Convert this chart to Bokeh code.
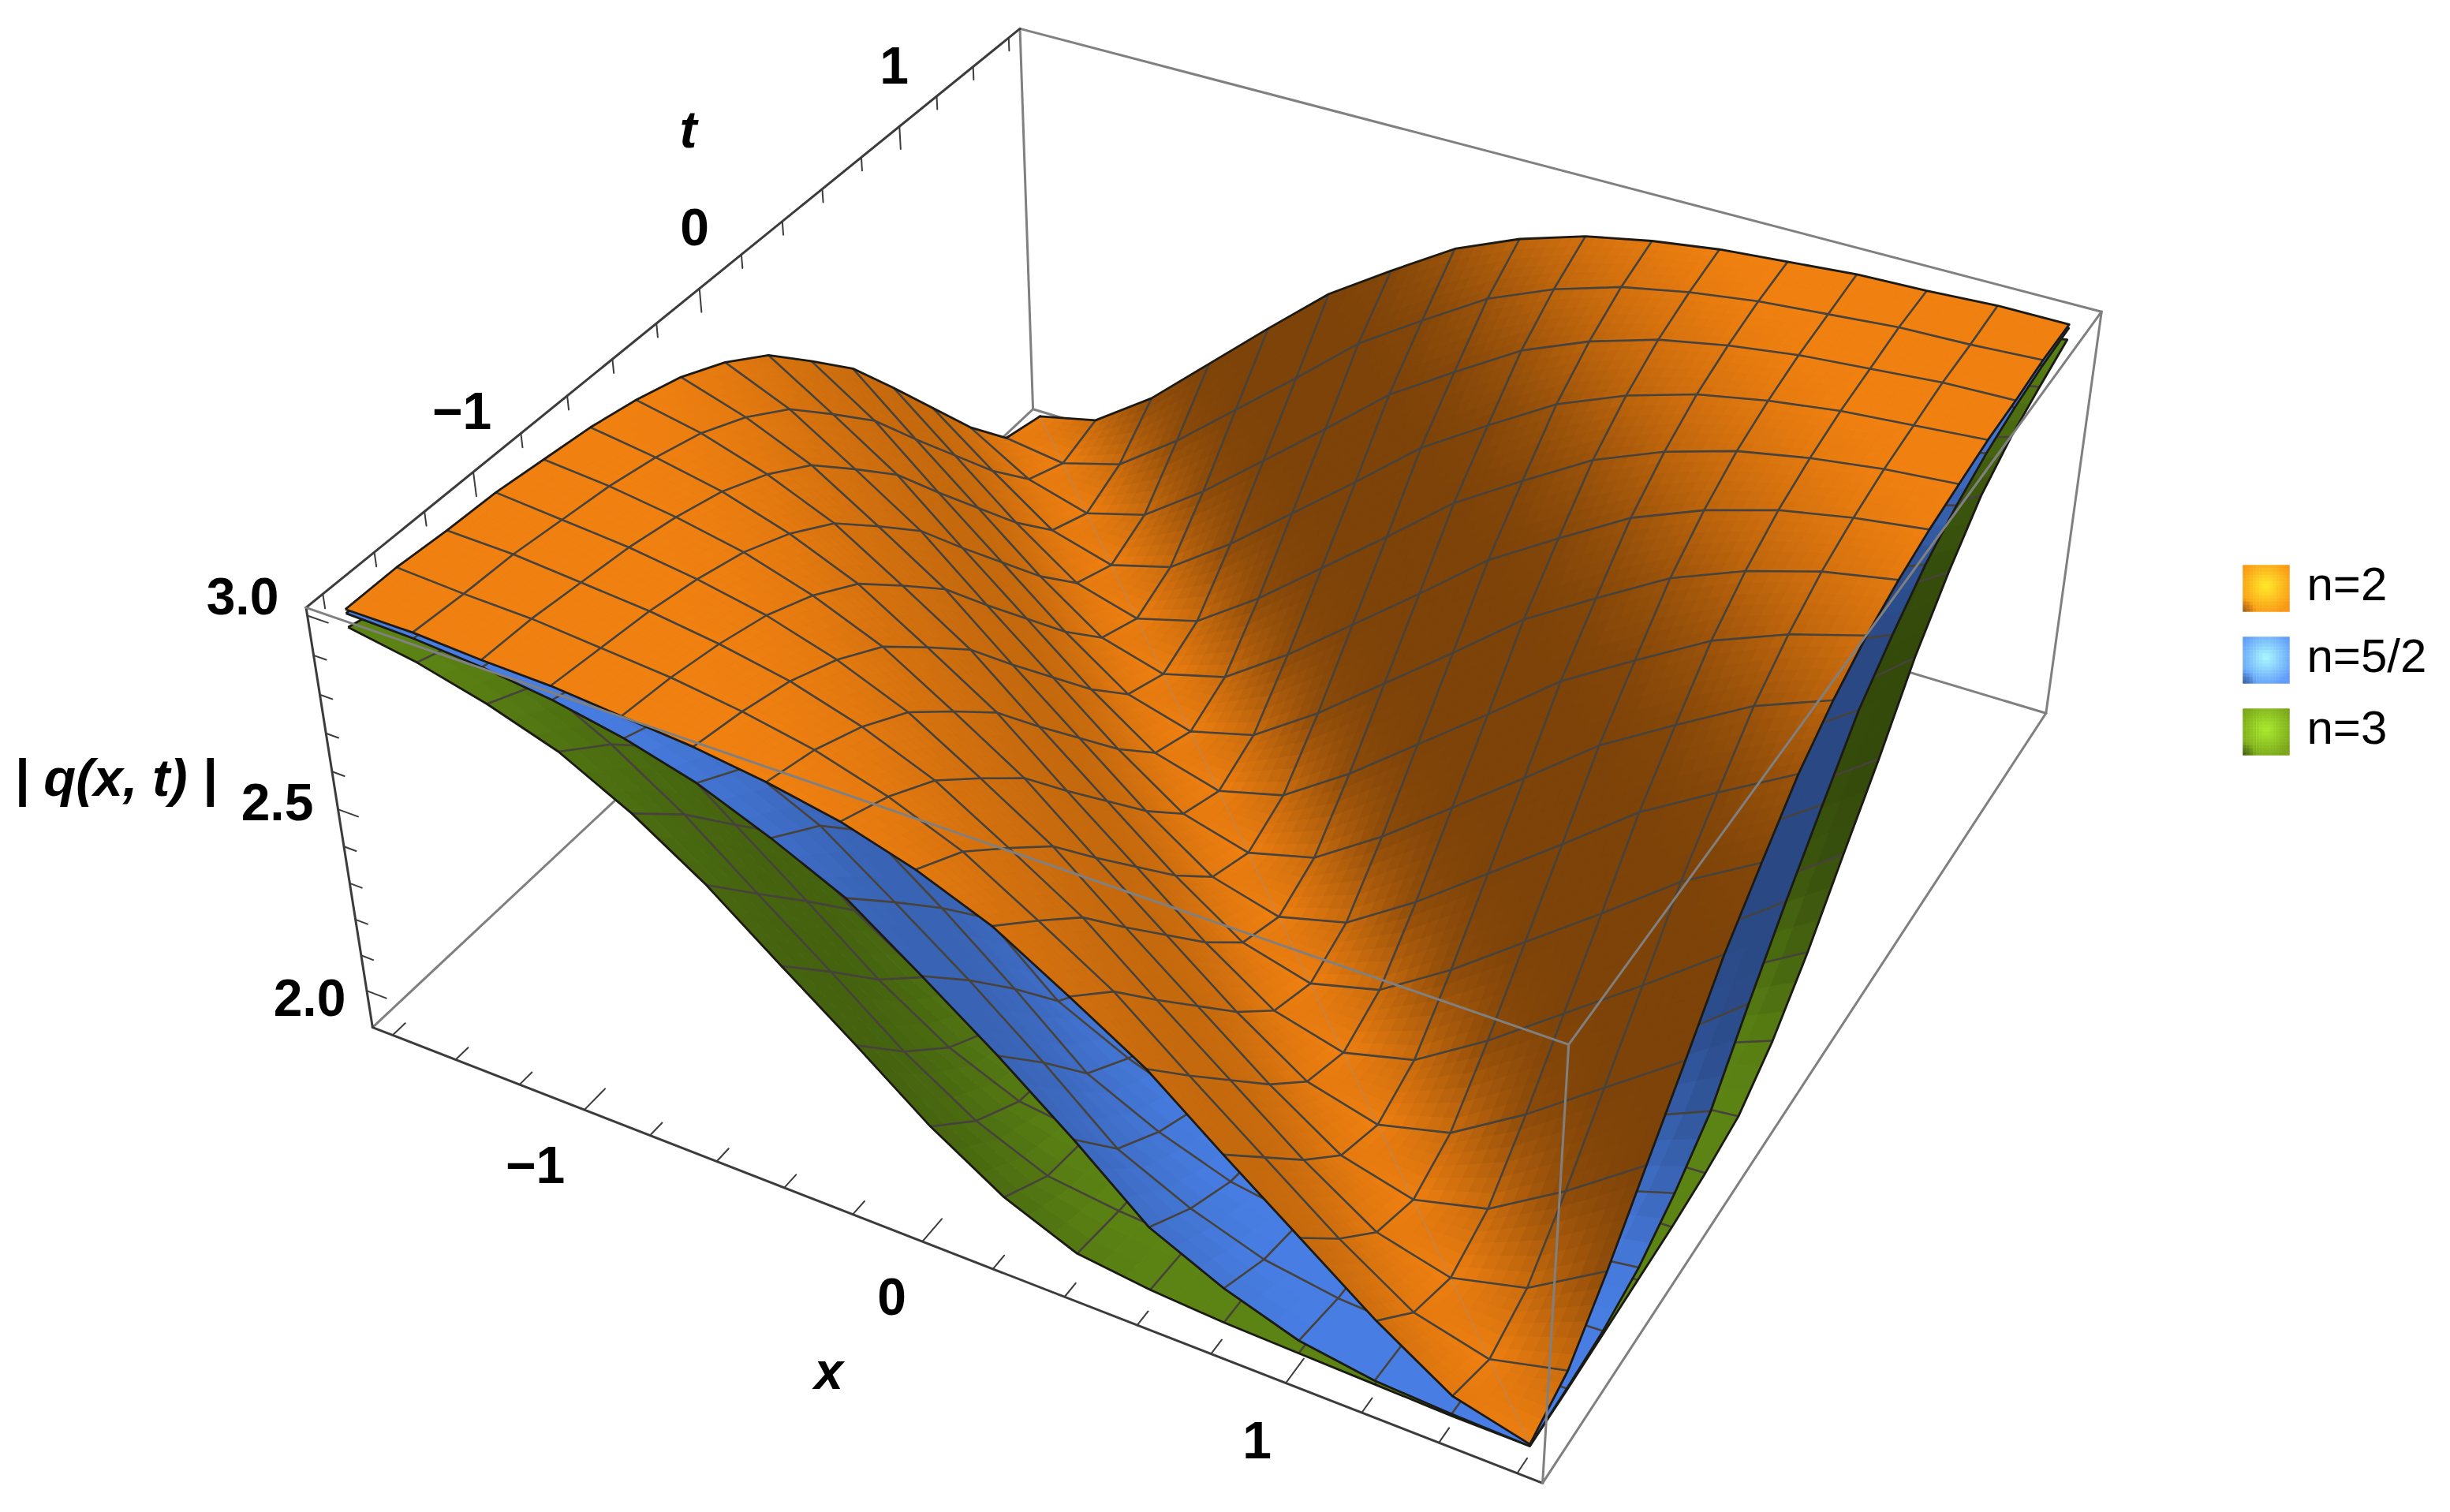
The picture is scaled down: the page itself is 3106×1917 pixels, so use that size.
import numpy as np
from bokeh.plotting import figure
from bokeh.embed import file_html
from bokeh.resources import INLINE
from bokeh.core.properties import value

# ---------- data ----------
x_nodes = [-1.6,-1.4,-1.2,-1.0,-0.8,-0.6,-0.4,-0.2,0.0,0.2,0.4,0.6,0.8,1.0,1.2,1.4,1.6]
t_nodes = [-1.6,-1.4,-1.2,-1.0,-0.8,-0.6,-0.4,-0.2,0.0,0.2,0.4,0.6,0.8,1.0,1.2,1.4,1.6]

z_n2 = [
[3.00,3.00,2.99,2.985,2.97,2.955,2.93,2.895,2.84,2.765,2.655,2.54,2.39,2.235,2.08,1.95,1.92],
[3.00,2.99,2.985,2.97,2.955,2.93,2.895,2.84,2.765,2.655,2.54,2.39,2.245,2.10,1.975,1.925,1.96],
[2.99,2.985,2.97,2.955,2.93,2.895,2.84,2.765,2.655,2.54,2.39,2.245,2.10,1.975,1.925,1.975,2.08],
[2.985,2.97,2.955,2.93,2.895,2.84,2.765,2.655,2.54,2.39,2.245,2.10,1.975,1.925,1.975,2.10,2.235],
[2.97,2.955,2.93,2.895,2.84,2.765,2.655,2.54,2.39,2.245,2.10,1.975,1.925,1.975,2.10,2.245,2.39],
[2.955,2.93,2.895,2.84,2.765,2.655,2.54,2.39,2.245,2.10,1.975,1.925,1.975,2.10,2.245,2.39,2.54],
[2.93,2.895,2.84,2.765,2.655,2.54,2.39,2.245,2.10,1.975,1.925,1.975,2.10,2.245,2.39,2.54,2.655],
[2.895,2.84,2.765,2.655,2.54,2.39,2.245,2.10,1.975,1.925,1.975,2.10,2.245,2.39,2.54,2.655,2.765],
[2.84,2.765,2.655,2.54,2.39,2.245,2.10,1.975,1.925,1.975,2.10,2.245,2.39,2.54,2.655,2.765,2.84],
[2.765,2.655,2.54,2.39,2.245,2.10,1.975,1.925,1.975,2.10,2.245,2.39,2.54,2.655,2.765,2.84,2.895],
[2.655,2.54,2.39,2.245,2.10,1.975,1.925,1.975,2.10,2.245,2.39,2.54,2.655,2.765,2.84,2.895,2.93],
[2.54,2.39,2.245,2.10,1.975,1.925,1.975,2.10,2.245,2.39,2.54,2.655,2.765,2.84,2.895,2.93,2.955],
[2.39,2.245,2.10,1.975,1.925,1.975,2.10,2.245,2.39,2.54,2.655,2.765,2.84,2.895,2.93,2.955,2.97],
[2.245,2.10,1.975,1.925,1.975,2.10,2.245,2.39,2.54,2.655,2.765,2.84,2.895,2.93,2.955,2.97,2.985],
[2.10,1.975,1.925,1.975,2.10,2.245,2.39,2.54,2.655,2.765,2.84,2.895,2.93,2.955,2.97,2.985,2.99],
[1.975,1.925,1.975,2.10,2.245,2.39,2.54,2.655,2.765,2.84,2.895,2.93,2.955,2.97,2.985,2.99,3.00],
[1.925,1.975,2.10,2.245,2.39,2.54,2.655,2.765,2.84,2.895,2.93,2.955,2.97,2.985,2.99,3.00,3.00],
]

z_n52 = [
[2.99,2.985,2.972,2.95,2.915,2.865,2.79,2.703,2.57,2.432,2.282,2.12,2.03,1.965,1.935,1.925,1.92],
[2.985,2.972,2.95,2.915,2.865,2.79,2.703,2.57,2.432,2.282,2.12,2.03,1.965,1.935,1.925,1.92,1.925],
[2.972,2.95,2.915,2.865,2.79,2.703,2.57,2.432,2.282,2.12,2.03,1.965,1.935,1.925,1.92,1.925,1.935],
[2.95,2.915,2.865,2.79,2.703,2.57,2.432,2.282,2.12,2.03,1.965,1.935,1.925,1.92,1.925,1.935,1.965],
[2.915,2.865,2.79,2.703,2.57,2.432,2.282,2.12,2.03,1.965,1.935,1.925,1.92,1.925,1.935,1.965,2.03],
[2.865,2.79,2.703,2.57,2.432,2.282,2.12,2.03,1.965,1.935,1.925,1.92,1.925,1.935,1.965,2.03,2.12],
[2.79,2.703,2.57,2.432,2.282,2.12,2.03,1.965,1.935,1.925,1.92,1.925,1.935,1.965,2.03,2.12,2.282],
[2.703,2.57,2.432,2.282,2.12,2.03,1.965,1.935,1.925,1.92,1.925,1.935,1.965,2.03,2.12,2.282,2.432],
[2.57,2.432,2.282,2.12,2.03,1.965,1.935,1.925,1.92,1.925,1.935,1.965,2.03,2.12,2.282,2.432,2.57],
[2.432,2.282,2.12,2.03,1.965,1.935,1.925,1.92,1.925,1.935,1.965,2.03,2.12,2.282,2.432,2.57,2.703],
[2.282,2.12,2.03,1.965,1.935,1.925,1.92,1.925,1.935,1.965,2.03,2.12,2.282,2.432,2.57,2.703,2.79],
[2.12,2.03,1.965,1.935,1.925,1.92,1.925,1.935,1.965,2.03,2.12,2.282,2.432,2.57,2.703,2.79,2.865],
[2.03,1.965,1.935,1.925,1.92,1.925,1.935,1.965,2.03,2.12,2.282,2.432,2.57,2.703,2.79,2.865,2.915],
[1.965,1.935,1.925,1.92,1.925,1.935,1.965,2.03,2.12,2.282,2.432,2.57,2.703,2.79,2.865,2.915,2.95],
[1.935,1.925,1.92,1.925,1.935,1.965,2.03,2.12,2.282,2.432,2.57,2.703,2.79,2.865,2.915,2.95,2.972],
[1.925,1.92,1.925,1.935,1.965,2.03,2.12,2.282,2.432,2.57,2.703,2.79,2.865,2.915,2.95,2.972,2.985],
[1.92,1.925,1.935,1.965,2.03,2.12,2.282,2.432,2.57,2.703,2.79,2.865,2.915,2.95,2.972,2.985,2.99],
]

z_n3 = [
[2.955,2.925,2.88,2.82,2.725,2.605,2.46,2.318,2.17,2.05,1.97,1.947,1.935,1.93,1.925,1.92,1.92],
[2.925,2.88,2.82,2.725,2.605,2.46,2.318,2.17,2.05,1.97,1.947,1.935,1.93,1.925,1.92,1.92,1.92],
[2.88,2.82,2.725,2.605,2.46,2.318,2.17,2.05,1.97,1.947,1.935,1.93,1.925,1.92,1.92,1.92,1.925],
[2.82,2.725,2.605,2.46,2.318,2.17,2.05,1.97,1.947,1.935,1.93,1.925,1.92,1.92,1.92,1.925,1.93],
[2.725,2.605,2.46,2.318,2.17,2.05,1.97,1.947,1.935,1.93,1.925,1.92,1.92,1.92,1.925,1.93,1.935],
[2.605,2.46,2.318,2.17,2.05,1.97,1.947,1.935,1.93,1.925,1.92,1.92,1.92,1.925,1.93,1.935,1.947],
[2.46,2.318,2.17,2.05,1.97,1.947,1.935,1.93,1.925,1.92,1.92,1.92,1.925,1.93,1.935,1.947,1.97],
[2.318,2.17,2.05,1.97,1.947,1.935,1.93,1.925,1.92,1.92,1.92,1.925,1.93,1.935,1.947,1.97,2.05],
[2.17,2.05,1.97,1.947,1.935,1.93,1.925,1.92,1.92,1.92,1.925,1.93,1.935,1.947,1.97,2.05,2.17],
[2.05,1.97,1.947,1.935,1.93,1.925,1.92,1.92,1.92,1.925,1.93,1.935,1.947,1.97,2.05,2.17,2.318],
[1.97,1.947,1.935,1.93,1.925,1.92,1.92,1.92,1.925,1.93,1.935,1.947,1.97,2.05,2.17,2.318,2.46],
[1.947,1.935,1.93,1.925,1.92,1.92,1.92,1.925,1.93,1.935,1.947,1.97,2.05,2.17,2.318,2.46,2.62],
[1.935,1.93,1.925,1.92,1.92,1.92,1.925,1.93,1.935,1.947,1.97,2.05,2.17,2.318,2.46,2.62,2.74],
[1.93,1.925,1.92,1.92,1.92,1.925,1.93,1.935,1.947,1.97,2.05,2.17,2.318,2.46,2.62,2.74,2.84],
[1.925,1.92,1.92,1.92,1.925,1.93,1.935,1.947,1.97,2.05,2.17,2.318,2.46,2.62,2.74,2.84,2.895],
[1.92,1.92,1.92,1.925,1.93,1.935,1.947,1.97,2.05,2.17,2.318,2.46,2.62,2.74,2.84,2.895,2.93],
[1.92,1.92,1.925,1.93,1.935,1.947,1.97,2.05,2.17,2.318,2.46,2.62,2.74,2.84,2.895,2.93,2.96],
]

series_names = ["n=2", "n=5/2", "n=3"]
x_tick_labels = ["\u22121", "0", "1"]
t_tick_labels = ["\u22121", "0", "1"]
z_tick_labels = ["3.0", "2.5", "2.0"]
x_major = [-1.0, 0.0, 1.0]
x_minor = [-1.6,-1.4,-1.2,-0.8,-0.6,-0.4,-0.2,0.2,0.4,0.6,0.8,1.2,1.4,1.6]
z_major = [2.0, 2.5, 3.0]
z_minor = [2.1,2.2,2.3,2.4,2.6,2.7,2.8,2.9]

# ---------- style: brightness of the surfaces, by diagonal index ----------
shade_n2 = [1,1,1,1,1,1,1,.98,.95,.9,.87,.84,.82,.82,.86,.95,1,.84,.58,.52,.52,.52,.55,.65,.78,.88,.95,1,1,1,1,1,1]
shade_n52 = [1,1,1,1,.97,.93,.88,.82,.79,.79,.82,.88,.94,1,1,1,1,1,1,.95,.8,.66,.58,.58,.58,.58,.58,.66,.8,.9,1,1,1]
shade_n3 = [1,1,.95,.88,.82,.78,.76,.74,.76,.82,.92,1,1,1,1,1,1,1,1,1,1,1,1,.95,.72,.58,.56,.56,.58,.66,.8,.92,1]
base_n2 = (240,128,16)
base_n52 = (72,126,228)
base_n3 = (92,132,20)

# ---------- camera: calibrated on the corners of the box and on the axis ticks ----------
XMIN, XMAX, TMIN, TMAX, ZMIN, ZMAX = -1.664, 1.664, -1.664, 1.664, 1.895, 3.02
calib = [
    ((XMIN,TMIN,ZMAX),(386,767)), ((XMIN,TMIN,ZMIN),(470,1302)),
    ((XMAX,TMIN,ZMIN),(1955,1882)), ((XMAX,TMIN,ZMAX),(1987,1323)),
    ((XMIN,TMAX,ZMAX),(1292,35)), ((XMIN,TMAX,ZMIN),(1309,518)),
    ((XMAX,TMAX,ZMAX),(2663,394)), ((XMAX,TMAX,ZMIN),(2594,905)),
    ((XMIN,-1,ZMAX),(603,597)), ((XMIN,0,ZMAX),(886,365)), ((XMIN,1,ZMAX),(1140,161)),
    ((-1.6,TMIN,ZMIN),(498,1311)), ((0,TMIN,ZMIN),(1168,1576)), ((1,TMIN,ZMIN),(1628,1754)), ((1.6,TMIN,ZMIN),(1926,1863)),
    ((XMIN,TMIN,3.0),(388,776)), ((XMIN,TMIN,2.5),(431,1044)), ((XMIN,TMIN,2.0),(463,1245)),
]
A, b = [], []
for (X,T,Z),(u,v) in calib:
    A.append([X,T,Z,1,0,0,0,0,-u*X,-u*T,-u*Z]); b.append(u)
    A.append([0,0,0,0,X,T,Z,1,-v*X,-v*T,-v*Z]); b.append(v)
sol = np.linalg.lstsq(np.array(A,float), np.array(b,float), rcond=None)[0]
P = np.append(sol,1.0).reshape(3,4)

def proj(x,t,z):
    x,t,z = np.asarray(x,float),np.asarray(t,float),np.asarray(z,float)
    w = P[2,0]*x+P[2,1]*t+P[2,2]*z+P[2,3]
    return (P[0,0]*x+P[0,1]*t+P[0,2]*z+P[0,3])/w, (P[1,0]*x+P[1,1]*t+P[1,2]*z+P[1,3])/w, w

_,_,w_near = proj(XMAX,TMIN,ZMAX)
_,_,w_far = proj(XMIN,TMAX,ZMIN)
depth_sign = 1.0 if w_far>w_near else -1.0

p = figure(width=3090, height=1901, x_range=(0,3090), y_range=(1901,0), output_backend="svg",
           toolbar_location=None, min_border=0, outline_line_color=None, background_fill_color="white")
p.axis.visible = False
p.grid.visible = False

def seg(a,b):
    ax,ay,_ = proj(*a); bx,by,_ = proj(*b)
    return [float(ax),float(bx)],[float(ay),float(by)]

def lines(segs,color,width):
    xs=[];ys=[]
    for a,b in segs:
        u,v=seg(a,b); xs.append(u); ys.append(v)
    p.multi_line(xs,ys,line_color=color,line_width=width,line_cap="round")

GRAY="#808080"; DARK="#3c3c3c"
lines([((XMIN,TMIN,ZMIN),(XMIN,TMAX,ZMIN)),((XMIN,TMAX,ZMIN),(XMIN,TMAX,ZMAX)),
       ((XMIN,TMAX,ZMAX),(XMAX,TMAX,ZMAX)),((XMIN,TMAX,ZMIN),(XMAX,TMAX,ZMIN)),
       ((XMAX,TMAX,ZMIN),(XMAX,TMAX,ZMAX))],GRAY,3.0)
lines([((XMIN,TMIN,ZMAX),(XMIN,TMAX,ZMAX)),((XMIN,TMIN,ZMAX),(XMIN,TMIN,ZMIN)),
       ((XMIN,TMIN,ZMIN),(XMAX,TMIN,ZMIN))],DARK,3.0)
tk=[]
for v in x_major: tk.append(((v,TMIN,ZMIN),(v,TMIN+.09,ZMIN)))
for v in x_minor: tk.append(((v,TMIN,ZMIN),(v,TMIN+.053,ZMIN)))
for v in x_major: tk.append(((XMIN,v,ZMAX),(XMIN,v,ZMAX-.062)))
for v in x_minor: tk.append(((XMIN,v,ZMAX),(XMIN,v,ZMAX-.036)))
for v in z_major: tk.append(((XMIN,TMIN,v),(XMIN+.062,TMIN,v)))
for v in z_minor: tk.append(((XMIN,TMIN,v),(XMIN+.038,TMIN,v)))
lines(tk,DARK,2.0)

def surface(z, shade, base, sub, fold=False):
    z=np.array(z,float); n=len(x_nodes)
    X,T=np.meshgrid(x_nodes,t_nodes,indexing="ij")
    S=np.array([[shade[i+j] for j in range(n)] for i in range(n)],float)
    cells=[]
    for i in range(n-1):
        for j in range(n-1):
            _,_,wc=proj(X[i:i+2,j:j+2].mean(),T[i:i+2,j:j+2].mean(),z[i:i+2,j:j+2].mean())
            cells.append((depth_sign*float(wc),i,j))
    cells.sort(reverse=True)
    px=[];py=[];col=[]
    g=np.linspace(0,1,sub+1)
    for _,i,j in cells:
        def bl(F,a,c):
            return F[i,j]*(1-a)*(1-c)+F[i+1,j]*a*(1-c)+F[i,j+1]*(1-a)*c+F[i+1,j+1]*a*c
        for a0,a1 in zip(g[:-1],g[1:]):
            for c0,c1 in zip(g[:-1],g[1:]):
                q=[(a0,c0),(a1,c0),(a1,c1),(a0,c1)]
                qx=[bl(X,a,c) for a,c in q]; qt=[bl(T,a,c) for a,c in q]; qz=[bl(z,a,c) for a,c in q]
                u,v,_=proj(qx,qt,qz)
                px.append(u.tolist()); py.append(v.tolist())
                br=bl(S,(a0+a1)/2,(c0+c1)/2)
                col.append("#%02x%02x%02x"%tuple(int(round(min(255,b_*br))) for b_ in base))
    p.patches(px,py,fill_color=col,line_color=col,line_width=1.0)
    if fold:
        idx=list(range(n))
        u,v,_=proj([X[i,n-1-i] for i in idx],[T[i,n-1-i] for i in idx],[z[i,n-1-i] for i in idx])
        p.line(u.tolist(),v.tolist(),line_color="#a09088",line_width=1.6,line_alpha=.45)
    mx=[];my=[]
    for i in range(1,n-1):
        u,v,_=proj(X[i,:],T[i,:],z[i,:]); mx.append(u.tolist()); my.append(v.tolist())
        u,v,_=proj(X[:,i],T[:,i],z[:,i]); mx.append(u.tolist()); my.append(v.tolist())
    p.multi_line(mx,my,line_color="#47423b",line_width=2.6,line_join="round")
    ex=np.concatenate([X[:,0],X[-1,:],X[::-1,-1],X[0,::-1]])
    et=np.concatenate([T[:,0],T[-1,:],T[::-1,-1],T[0,::-1]])
    ez=np.concatenate([z[:,0],z[-1,:],z[::-1,-1],z[0,::-1]])
    u,v,_=proj(ex,et,ez)
    p.line(u.tolist(),v.tolist(),line_color="#1c1a14",line_width=2.8,line_join="round")

surface(z_n3,shade_n3,base_n3,3)
surface(z_n52,shade_n52,base_n52,3)
surface(z_n2,shade_n2,base_n2,6,True)

lines([((XMIN,TMIN,ZMAX),(XMAX,TMIN,ZMAX)),((XMAX,TMIN,ZMAX),(XMAX,TMAX,ZMAX)),
       ((XMAX,TMIN,ZMAX),(XMAX,TMIN,ZMIN)),((XMAX,TMIN,ZMIN),(XMAX,TMAX,ZMIN))],GRAY,3.0)

def label(x,y,txt,size,style="bold",align="center"):
    p.text([x],[y],text=[txt],text_font=value("Liberation Sans"),text_font_size=size,
           text_font_style=style,text_align=align,text_baseline="middle",text_color="black")

for (lx,ly),s in zip([(678,1476),(1130,1643),(1593,1825)],x_tick_labels): label(lx,ly,s,"66px")
for (lx,ly),s in zip([(585,520),(880,287),(1133,82)],t_tick_labels): label(lx,ly,s,"66px")
for (lx,ly),s in zip([(307,755),(351,1016),(392,1264)],z_tick_labels): label(lx,ly,s,"66px")
label(1050,1737,"x",  "66px","bold italic")
label(872,163,"t",  "66px","bold italic")
label(146,985,"| q(x, t) |","67px","bold italic")

legend_cols=[((255,235,40),(250,150,20),(150,90,15)),((170,250,255),(95,155,250),(50,90,150)),((170,235,45),(120,165,25),(60,90,15))]
for (y0,name,(c0,c1,c2)) in zip([716,807,898],series_names,legend_cols):
    N=14; size=59.0/N; l=[];r=[];t=[];bm=[];cs=[]
    for a in range(N):
        for c in range(N):
            fx=(a+.5)/N; fy=(c+.5)/N
            d=min(1.0,np.hypot(fx-.5,fy-.45)/.62)
            col=np.array(c0)*(1-d)+np.array(c1)*d
            e=max(0.0,1-np.hypot(fx,1-fy)/.28)
            col=col*(1-e)+np.array(c2)*e
            l.append(2843+a*size); r.append(2843+(a+1)*size); t.append(y0+c*size); bm.append(y0+(c+1)*size)
            cs.append("#%02x%02x%02x"%tuple(int(v) for v in col))
    p.quad(left=l,right=r,top=t,bottom=bm,fill_color=cs,line_color=cs,line_width=.5)
    label(2924,y0+24,name,"60px","normal","left")

open("out.html","w").write(file_html(p,INLINE))
